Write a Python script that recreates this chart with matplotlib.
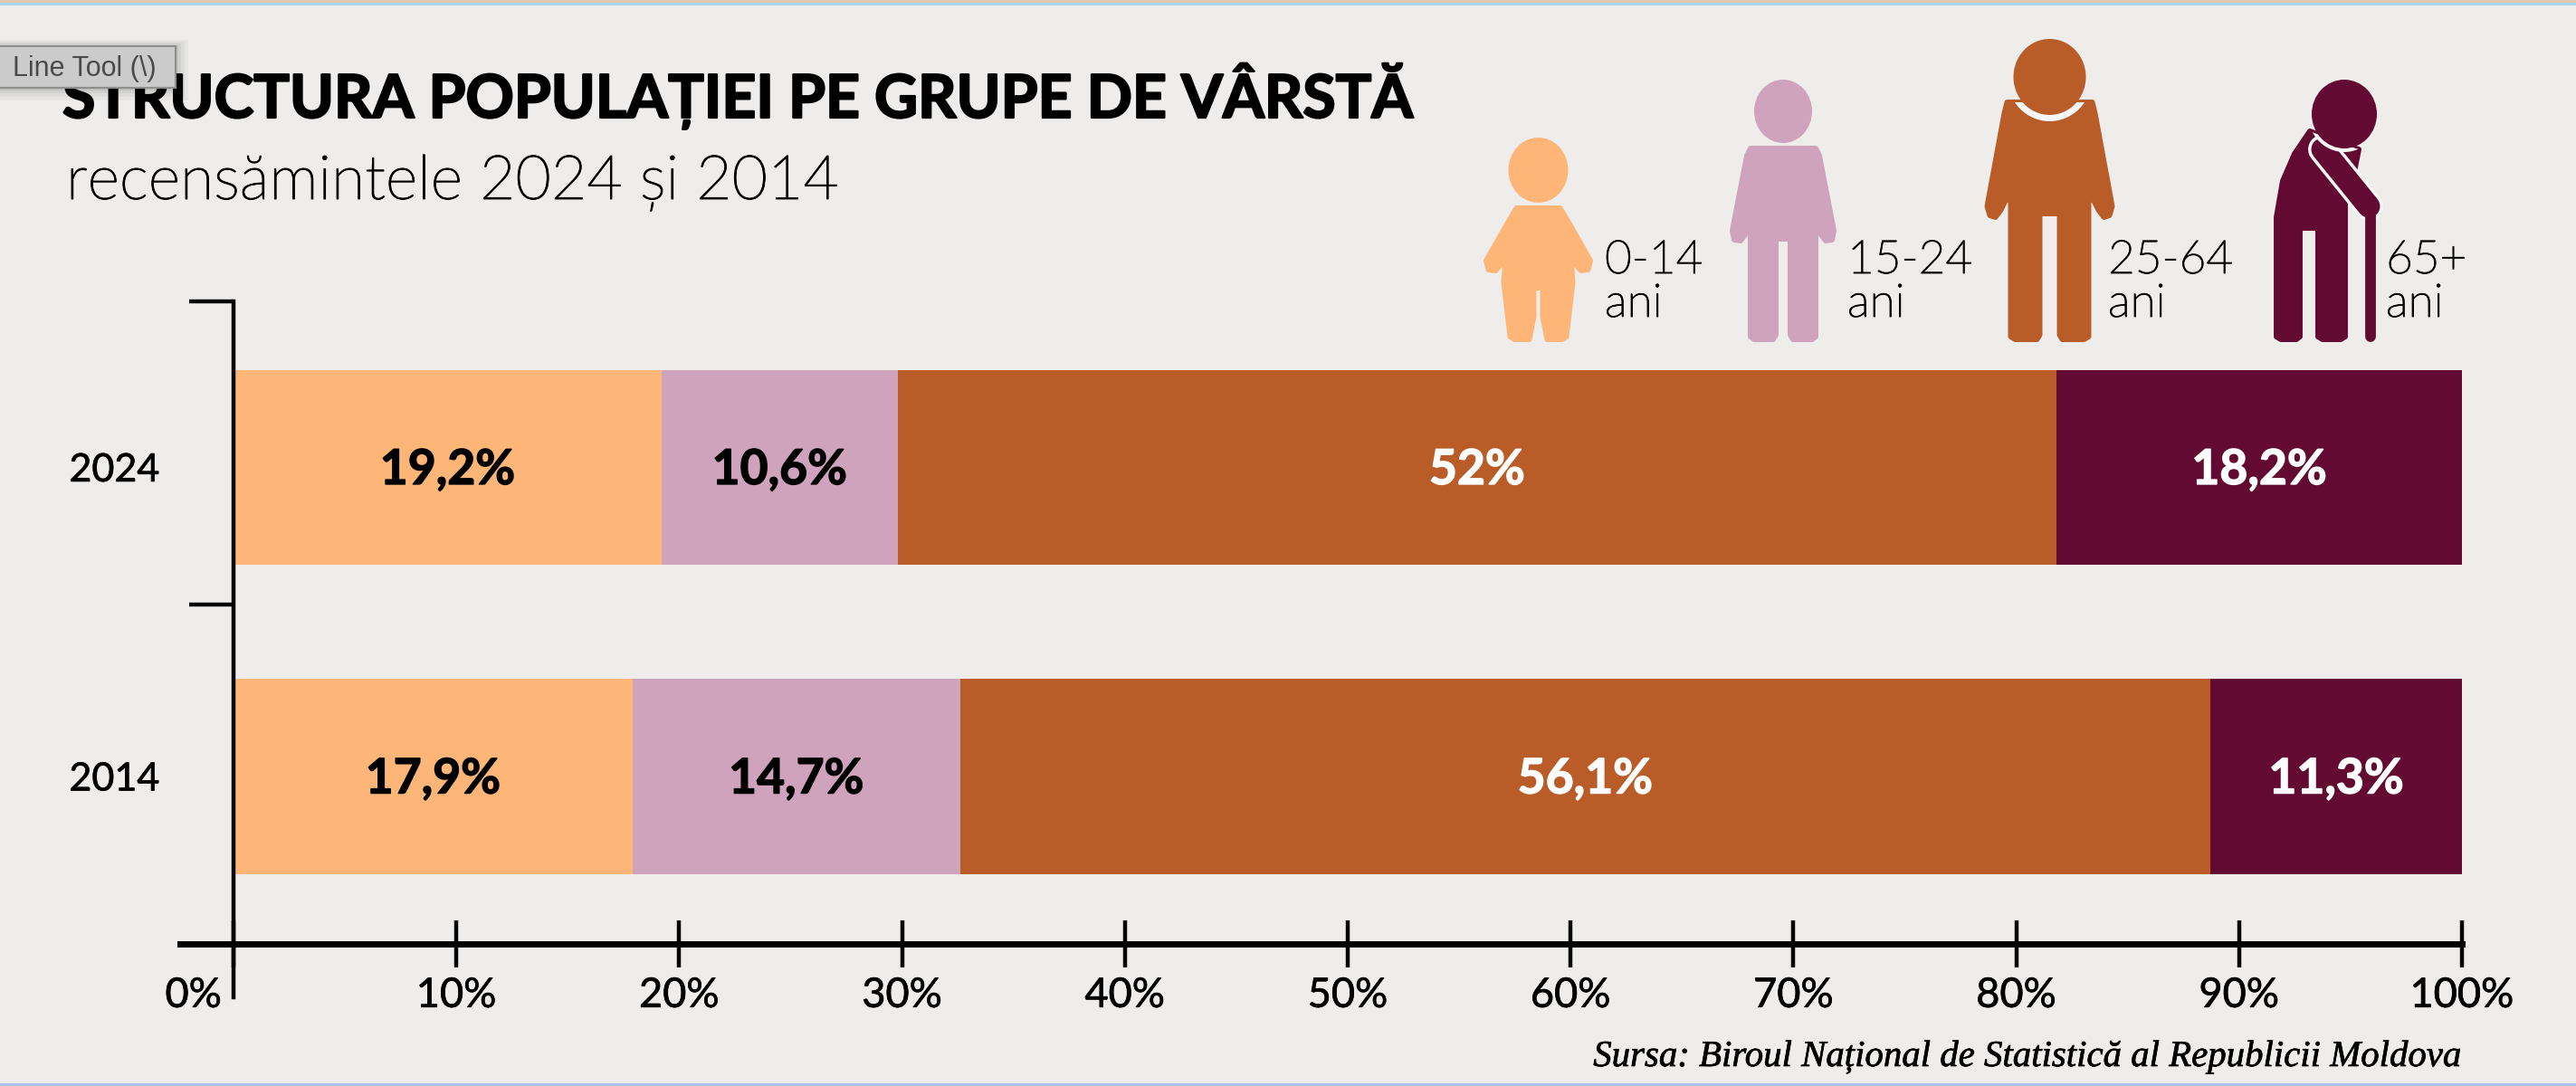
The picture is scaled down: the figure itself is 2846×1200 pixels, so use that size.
import matplotlib
matplotlib.use("Agg")
import matplotlib.pyplot as plt
import matplotlib.font_manager as fm
import matplotlib.patheffects as pe
from matplotlib.patches import Polygon, Ellipse, Rectangle
from matplotlib.transforms import ScaledTranslation

years = [2014, 2024]
groups = ['0-14', '15-24', '25-64', '65+']
share_0_14 = [17.9, 19.2]
share_15_24 = [14.7, 10.6]
share_25_64 = [56.1, 52]
share_65 = [11.3, 18.2]
colors = ['#FDB678', '#CFA3BC', '#BA5C27', '#630A32']
label_colors = ['black', 'black', 'white', 'white']
pct_ticks = [0, 10, 20, 30, 40, 50, 60, 70, 80, 90, 100]

W, H = 2846, 1200
BG = '#EEEDEB'
HALO = '#F8F8F8'
plt.rcParams['font.family'] = ['Lato', 'DejaVu Sans']

# the plain "light" weight lookup lands on the hairline cut, so ask for the file
light_files = [f.fname for f in fm.fontManager.ttflist
               if f.name == 'Lato' and 'Light' in f.fname and 'Italic' not in f.fname]
if light_files:
    light = {'fontproperties': fm.FontProperties(fname=light_files[0])}
else:
    light = {'fontproperties': fm.FontProperties(family='Lato', weight=400)}


def sized(size):
    fp = light['fontproperties'].copy()
    fp.set_size(size)
    return fp


def thicker(width):
    return [pe.withStroke(linewidth=width, foreground='black')]


fig = plt.figure(figsize=(W / 100, H / 100), dpi=100, facecolor=BG)
ax = fig.add_axes([258 / W, (H - 1043) / H, (2720 - 258) / W, (1043 - 333) / H])
ax.set_facecolor('none')

# stacked bars
left = [0, 0]
for vals, c, lc in zip([share_0_14, share_15_24, share_25_64, share_65], colors, label_colors):
    bars = ax.barh([0, 1], vals, left=left, height=0.63, color=c, linewidth=0)
    txt = [f'{v:g}%'.replace('.', ',') for v in vals]
    for t in ax.bar_label(bars, labels=txt, label_type='center', color=lc, fontsize=38.5, fontweight='bold'):
        t.xyann = (0, -2.2)
        t.set_path_effects([pe.withStroke(linewidth=1.0, foreground=lc)])
    left = [a + b for a, b in zip(left, vals)]

ax.set_xlim(0, 100)
ax.set_ylim(-0.5417, 1.537)
for s in ['top', 'right']:
    ax.spines[s].set_visible(False)
ax.spines['left'].set_linewidth(3.2)
ax.spines['left'].set_bounds(-0.715, 1.537)
ax.spines['bottom'].set_linewidth(5)
ax.spines['bottom'].set_bounds(-2.4, 100)

ax.set_xticks(pct_ticks)
ax.set_xticklabels([f'{p}%' for p in pct_ticks])
ax.tick_params(axis='x', direction='inout', length=37, width=3.2, labelsize=32.5, pad=8)
first = ax.get_xticklabels()[0]
first.set_ha('right')
first.set_transform(first.get_transform() + ScaledTranslation(-13 / 100, 0, fig.dpi_scale_trans))

ax.set_yticks([0, 1])
ax.set_yticklabels([str(y) for y in years])
ax.set_yticks([0.556, 1.537], minor=True)
ax.tick_params(axis='y', which='major', length=0, labelsize=31, pad=59)
ax.tick_params(axis='y', which='minor', length=35, width=3.2)
for lab in ax.get_xticklabels() + ax.get_yticklabels():
    lab.set_path_effects(thicker(0.5))

# overlay in image pixels for title, pictograms and screenshot leftovers
over = fig.add_axes([0, 0, 1, 1], zorder=5)
over.set_xlim(0, W)
over.set_ylim(H, 0)
over.axis('off')

over.text(69, 130, 'STRUCTURA POPULAȚIEI PE GRUPE DE VÂRSTĂ', fontsize=47.6, fontweight='bold',
          color='black', va='baseline', path_effects=thicker(1.6))
over.text(73, 220, 'recensămintele 2024 și 2014', fontproperties=sized(49),
          color='black', va='baseline', path_effects=thicker(0.6))
over.text(2722, 1178, 'Sursa: Biroul Național de Statistică al Republicii Moldova', ha='right',
          fontsize=29.4, style='italic', family=['Liberation Serif', 'DejaVu Serif'],
          va='baseline', path_effects=thicker(0.5))


def shape(points, color):
    p = Polygon(points, closed=True, facecolor=color, edgecolor=color, linewidth=4.3, joinstyle='round')
    over.add_patch(p)
    return p


def person(cx, half, color):
    right = [(cx + dx, y) for dx, y in half]
    lft = [(cx - dx, y) for dx, y in reversed(half)]
    return shape(right + lft, color)


def head(cx, cy, rx, ry, color, body=None, gap=0):
    # gap: white ring, only where the head sits on the body
    if body is not None:
        ring = Ellipse((cx, cy), 2 * (rx + gap), 2 * (ry + gap), facecolor=HALO, edgecolor='none', zorder=3)
        over.add_patch(ring)
        ring.set_clip_path(body)
    over.add_patch(Ellipse((cx, cy), 2 * rx, 2 * ry, facecolor=color, edgecolor='none', zorder=4))


person(1699.5, [(24, 230), (33, 245), (57.5, 288), (55, 298), (47, 299), (40, 290), (35, 272),
                (38, 312), (31, 372), (26, 375), (10, 375), (5, 350), (5, 318)], colors[0])
head(1699.5, 188, 33, 36, colors[0])

person(1970, [(36, 164), (40, 172), (56, 255), (54, 265), (47, 266), (41, 258), (36, 248),
              (36, 372), (32, 375), (11, 375), (8, 370), (8, 264)], colors[1])
head(1970, 123, 32, 35, colors[1])

adult = person(2264.5, [(47, 113), (50, 125), (69, 228), (66, 238), (60, 240), (54, 232), (49, 222),
                        (43, 218), (43, 372), (38, 375), (14, 375), (11, 370), (11, 236)], colors[2])
head(2264.5, 85, 40, 42, colors[2], adult, 7)

elder = shape([(2552, 145), (2535, 170), (2522, 200), (2515, 240), (2515, 372), (2520, 375), (2537, 375),
               (2541, 372), (2541, 252), (2561, 252), (2561, 372), (2566, 375), (2586, 375), (2591, 372),
               (2591, 225), (2601, 190), (2606, 165), (2590, 160)], colors[3])
over.plot([2566, 2617], [165, 228], color=HALO, lw=23, solid_capstyle='round')
over.plot([2566, 2617], [165, 228], color=colors[3], lw=18, solid_capstyle='round')
over.plot([2619, 2619], [232, 372], color=colors[3], lw=8.5, solid_capstyle='round')
head(2590, 126, 36, 38, colors[3], elder, 4)

label_x = [1773, 2041, 2329, 2636]
for g, x in zip(groups, label_x):
    over.text(x, 302, g, fontproperties=sized(37), va='baseline', path_effects=thicker(0.6))
    over.text(x, 350, 'ani', fontproperties=sized(37), va='baseline', path_effects=thicker(0.6))

# tooltip left over from the screenshot
for grow, a in [(14, 0.03), (10, 0.04), (6, 0.05), (3, 0.07)]:
    over.add_patch(Rectangle((-10, 51 - grow / 2), 204 + grow, 46 + grow * 1.5, facecolor='black',
                             edgecolor='none', alpha=a, zorder=6))
over.add_patch(Rectangle((-10, 51), 204, 46, facecolor='#CBCBCB', edgecolor='#8E8E8E', linewidth=1.5, zorder=7))
over.text(14, 76, 'Line Tool (\\)', fontsize=22, color='#4A4A4A', va='center', zorder=8,
          family=['Liberation Sans', 'DejaVu Sans'])

# screenshot edges
over.add_patch(Rectangle((0, 0), W, 3, facecolor='#E2C8AC', edgecolor='none', zorder=9))
over.add_patch(Rectangle((0, 3), W, 2.5, facecolor='#A9D5F0', edgecolor='none', zorder=9))
over.add_patch(Rectangle((0, 1197), W, 3, facecolor='#A9C4E6', edgecolor='none', zorder=9))

fig.savefig('out.png', dpi=100, facecolor=BG)
